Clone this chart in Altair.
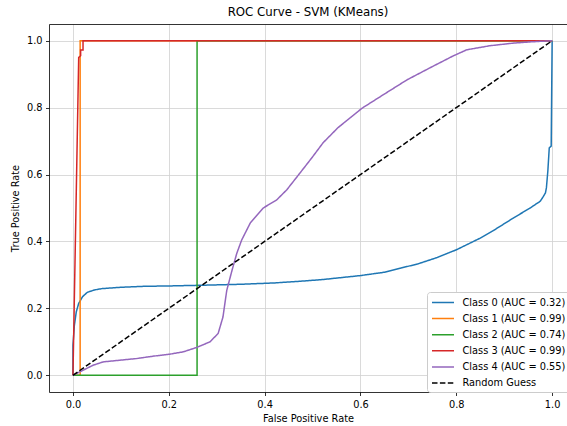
import altair as alt
import pandas as pd

# ---- data ----
labels = ["Class 0 (AUC = 0.32)", "Class 1 (AUC = 0.99)", "Class 2 (AUC = 0.74)",
          "Class 3 (AUC = 0.99)", "Class 4 (AUC = 0.55)", "Random Guess"]
colors = ["#1f77b4", "#ff7f0e", "#2ca02c", "#d62728", "#9467bd", "#000000"]

fpr0 = [0.0, 0.0, 0.003, 0.007, 0.012, 0.02, 0.03, 0.045, 0.06, 0.1, 0.15, 0.2, 0.265,
        0.35, 0.42, 0.474, 0.52, 0.6, 0.65, 0.683, 0.72, 0.76, 0.8, 0.85, 0.88, 0.919,
        0.954, 0.975, 0.981, 0.986, 0.988, 0.991, 0.994, 0.998, 1.0]
tpr0 = [0.0, 0.09, 0.15, 0.19, 0.215, 0.235, 0.248, 0.255, 0.259, 0.263, 0.266, 0.267, 0.269,
        0.272, 0.276, 0.281, 0.286, 0.298, 0.308, 0.32, 0.333, 0.352, 0.375, 0.41, 0.435, 0.47,
        0.5, 0.52, 0.533, 0.545, 0.56, 0.61, 0.68, 0.685, 1.0]

fpr1 = [0.0, 0.015, 0.015, 1.0]
tpr1 = [0.0, 0.0, 1.0, 1.0]

fpr2 = [0.0, 0.259, 0.259, 1.0]
tpr2 = [0.0, 0.0, 1.0, 1.0]

fpr3 = [0.0, 0.012, 0.016, 0.016, 0.021, 0.021, 1.0]
tpr3 = [0.0, 0.95, 0.955, 0.972, 0.972, 1.0, 1.0]

fpr4 = [0.0, 0.021, 0.042, 0.063, 0.098, 0.133, 0.167, 0.202, 0.23, 0.258, 0.286, 0.303,
        0.313, 0.321, 0.332, 0.342, 0.352, 0.37, 0.397, 0.425, 0.446, 0.474, 0.498, 0.522,
        0.553, 0.603, 0.647, 0.697, 0.745, 0.794, 0.822, 0.87, 0.92, 0.96, 1.0]
tpr4 = [0.0, 0.015, 0.03, 0.04, 0.045, 0.05, 0.057, 0.063, 0.07, 0.083, 0.1, 0.125,
        0.174, 0.254, 0.314, 0.365, 0.404, 0.455, 0.5, 0.524, 0.554, 0.605, 0.649, 0.695,
        0.74, 0.798, 0.838, 0.883, 0.919, 0.955, 0.973, 0.985, 0.993, 0.997, 1.0]

fpr_rand = [0.0, 1.0]
tpr_rand = [0.0, 1.0]

tick_vals = [0.0, 0.2, 0.4, 0.6, 0.8, 1.0]

series = [(fpr0, tpr0), (fpr1, tpr1), (fpr2, tpr2), (fpr3, tpr3), (fpr4, tpr4),
          (fpr_rand, tpr_rand)]
rows = []
for lab, (fx, ty) in zip(labels, series):
    for i, (a, b) in enumerate(zip(fx, ty)):
        rows.append({"fpr": a, "tpr": b, "label": lab, "idx": i})
df = pd.DataFrame(rows)

FONT = "DejaVu Sans"
dashes = [[1, 0]] * 5 + [[5.5, 2.4]]

legend = alt.Legend(
    title=None, orient="none", legendX=378, legendY=268,
    fillColor="white", strokeColor="#cccccc", cornerRadius=3, padding=4,
    labelFont=FONT, labelFontSize=9.8, labelColor="#000000",
    symbolType="M-1,0H3", symbolSize=121, symbolStrokeWidth=1.5,
    labelOffset=18.5, rowPadding=4.1, labelLimit=300,
)

xscale = alt.Scale(domain=[-0.05, 1.031], nice=False, zero=False)
yscale = alt.Scale(domain=[-0.05, 1.05], nice=False, zero=False)

xaxis = alt.Axis(values=tick_vals, format=".1f", title="False Positive Rate",
                 titlePadding=5, labelPadding=3.5, grid=True, orient="bottom")
yaxis = alt.Axis(values=tick_vals, format=".1f", title="True Positive Rate",
                 titlePadding=6, labelPadding=3.5, grid=True, orient="left")
top_axis = alt.Axis(orient="top", labels=False, ticks=False, grid=False,
                    domain=True, title=None)


def layer(i):
    d = df[df["label"] == labels[i]]
    if i == 0:
        xa = xaxis
    elif i == 5:
        xa = top_axis
    else:
        xa = None
    return alt.Chart(d).mark_line(strokeWidth=1.5).encode(
        x=alt.X("fpr:Q", scale=xscale, axis=xa),
        y=alt.Y("tpr:Q", scale=yscale, axis=yaxis),
        color=alt.Color("label:N", scale=alt.Scale(domain=labels, range=colors),
                        legend=legend),
        strokeDash=alt.StrokeDash("label:N",
                                  scale=alt.Scale(domain=labels, range=dashes),
                                  legend=legend),
        order=alt.Order("idx:Q"),
    )


chart = alt.layer(*[layer(i) for i in range(6)]).resolve_axis(
    x="independent"
).properties(
    width=518, height=368,
    autosize=alt.AutoSizeParams(type="none"),
    padding={"left": 49, "top": 24, "right": 0, "bottom": 34},
    title=alt.TitleParams("ROC Curve - SVM (KMeans)", font=FONT, fontSize=11.8,
                          fontWeight="normal", color="#000000", anchor="middle",
                          offset=5),
).configure_view(stroke=None).configure_axis(
    domainColor="#000000", domainWidth=0.8, tickColor="#000000", tickWidth=0.8,
    tickSize=3.5, labelFont=FONT, labelFontSize=9.8, labelColor="#000000",
    titleFont=FONT, titleFontSize=9.8, titleFontWeight="normal", titleColor="#000000",
    gridColor="#d0d0d0", gridWidth=0.8,
)

chart.save("out.html", embed_options={"renderer": "svg", "actions": False})
